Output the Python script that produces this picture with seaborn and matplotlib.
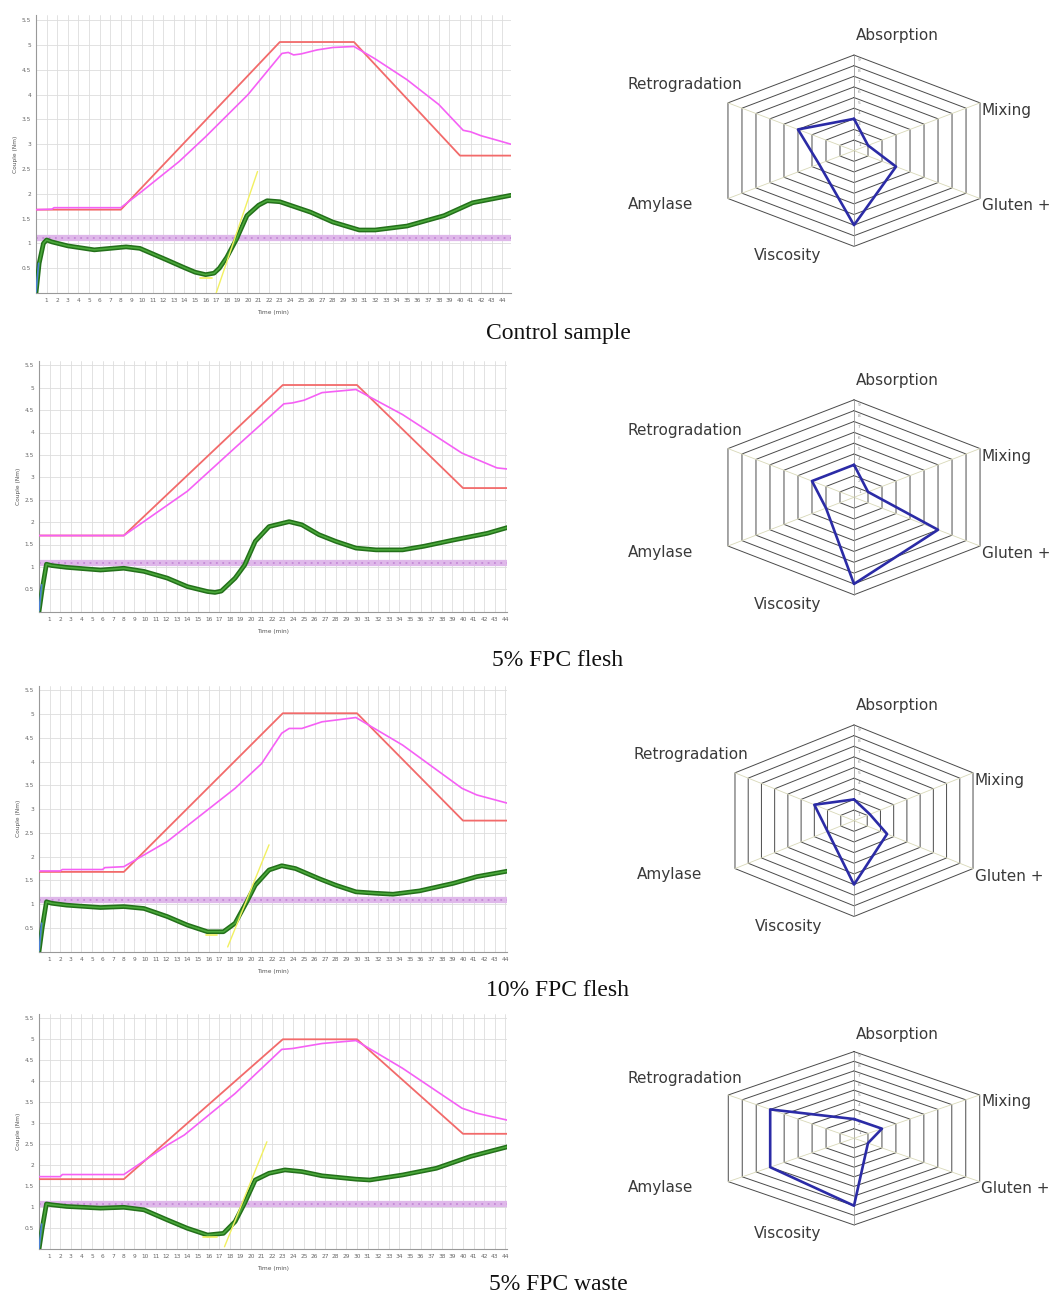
import numpy as np
import pandas as pd
import matplotlib
matplotlib.use("Agg")
import matplotlib.pyplot as plt
import seaborn as sns

sns.set_theme(style="white")
plt.rcParams['font.family'] = ['DejaVu Sans']

W, H = 1054, 1296

samples = ["Control sample", "5% FPC flesh", "10% FPC flesh", "5% FPC waste"]

# target temperature profile (red), in torque-scale units
red_t = [0, 8, 23, 30, 40, 44.8]
red_v = [
    [1.68, 1.68, 5.06, 5.06, 2.77, 2.77],
    [1.70, 1.70, 5.06, 5.06, 2.76, 2.76],
    [1.68, 1.68, 5.02, 5.02, 2.76, 2.76],
    [1.67, 1.67, 5.00, 5.00, 2.75, 2.75],
]

# dough temperature (magenta)
mag_t = [
    [0, 1.5, 1.7, 8, 10, 13.5, 16, 20, 23.2, 23.8, 24.3, 25, 26.5, 28, 30, 32, 35, 38, 40.3, 41, 42, 43.5, 44.8],
    [0, 8, 14, 18.5, 23.1, 23.9, 25, 26.7, 29.9, 34.3, 39.9, 41.3, 43.2, 44.8],
    [0, 2, 2.2, 6, 6.2, 8, 12.1, 15.3, 18.5, 21, 22.9, 23.6, 24.8, 26.7, 29.9, 34.3, 39.9, 41.3, 44.8],
    [0, 2, 2.2, 8, 12.1, 13.7, 18.5, 22.9, 23.9, 26.7, 29.9, 34.3, 39.9, 41.3, 44.8],
]
mag_v = [
    [1.68, 1.69, 1.72, 1.72, 2.05, 2.65, 3.15, 4.0, 4.83, 4.85, 4.8, 4.82, 4.9, 4.95, 4.97, 4.72, 4.3, 3.8, 3.28, 3.25, 3.17, 3.08, 3.0],
    [1.70, 1.70, 2.69, 3.66, 4.64, 4.66, 4.72, 4.89, 4.96, 4.40, 3.54, 3.40, 3.21, 3.17],
    [1.70, 1.70, 1.73, 1.73, 1.77, 1.79, 2.32, 2.88, 3.44, 3.96, 4.60, 4.70, 4.70, 4.84, 4.93, 4.35, 3.44, 3.30, 3.09],
    [1.73, 1.73, 1.78, 1.78, 2.48, 2.72, 3.71, 4.76, 4.78, 4.90, 4.97, 4.31, 3.36, 3.24, 3.04],
]

# torque curve (green)
tq_t = [
    [0, 0.3, 0.7, 1.0, 1.5, 3, 5.5, 8.5, 9.8, 12.3, 14, 15, 16, 16.8, 17.3, 18, 18.9, 19.9, 21, 21.8, 23, 25.9, 28, 30.5, 32, 35, 38.5, 41.2, 44.8],
    [0, 0.3, 0.7, 1.2, 2.6, 5.8, 8, 9.9, 12.1, 14, 15.9, 16.6, 17.2, 18.5, 19.4, 20.4, 21.7, 23.6, 24.8, 26.4, 28, 29.9, 31.8, 34.3, 36.3, 39.1, 42.3, 44.8],
    [0, 0.3, 0.7, 1.2, 2.6, 5.8, 8, 9.9, 12.1, 14, 15.9, 17.4, 18.5, 19.6, 20.4, 21.7, 22.9, 24.2, 26.4, 28, 29.9, 31.8, 33.4, 35.9, 39.1, 41.3, 44.8],
    [0, 0.3, 0.7, 1.2, 2.6, 5.8, 8, 9.9, 12.1, 14, 15.9, 17.4, 18.5, 19.4, 20.4, 21.7, 23.2, 24.8, 26.7, 29.9, 31.2, 34.3, 37.5, 40.7, 44.8],
]
tq_v = [
    [0, 0.6, 1.0, 1.07, 1.03, 0.95, 0.87, 0.93, 0.90, 0.67, 0.51, 0.42, 0.37, 0.40, 0.50, 0.72, 1.08, 1.56, 1.77, 1.86, 1.84, 1.63, 1.43, 1.27, 1.27, 1.35, 1.56, 1.82, 1.97],
    [0, 0.5, 1.06, 1.03, 0.99, 0.93, 0.97, 0.90, 0.75, 0.56, 0.45, 0.43, 0.46, 0.75, 1.04, 1.57, 1.90, 2.01, 1.94, 1.72, 1.57, 1.42, 1.38, 1.38, 1.46, 1.60, 1.75, 1.92],
    [0, 0.5, 1.05, 1.02, 0.98, 0.93, 0.95, 0.91, 0.74, 0.56, 0.42, 0.42, 0.60, 1.05, 1.40, 1.72, 1.81, 1.75, 1.54, 1.40, 1.26, 1.23, 1.21, 1.28, 1.44, 1.58, 1.72],
    [0, 0.5, 1.08, 1.06, 1.02, 0.98, 1.00, 0.94, 0.70, 0.50, 0.34, 0.38, 0.66, 1.10, 1.65, 1.81, 1.89, 1.85, 1.75, 1.67, 1.65, 1.77, 1.93, 2.21, 2.48],
]

# purple reference band and yellow slope lines
band_v = [1.10, 1.08, 1.09, 1.08]
slope_t = [[17.0, 20.9], None, [17.8, 21.7], [17.5, 21.5]]
slope_v = [[0.0, 2.45], None, [0.1, 2.25], [0.06, 2.56]]
min_t = [[15.5, 16.6], None, [15.8, 16.8], [15.5, 16.8]]
min_v = [[0.31, 0.31], None, [0.36, 0.36], [0.30, 0.30]]
start_t = [0, 0.25]
start_v = [0.02, 0.6]

# profiler indices
axes_names = ["Absorption", "Mixing", "Gluten +", "Viscosity", "Amylase", "Retrogradation"]
profile = [
    [3, 1, 3, 7, 2.5, 4],
    [3, 1, 6, 8, 2, 3],
    [2, 1.2, 2.5, 6, 2, 3],
    [2, 2, 1, 7, 6, 6],
]

# layout in pixels
line_box = [  # left, right, y of zero, px per unit
    (36, 511, 293.0, 49.6),
    (39, 507, 611.7, 44.8),
    (39, 507, 951.7, 47.5),
    (39, 507, 1249.3, 42.0),
]
radar_box = [  # cx, cy, px per x unit, px per y unit
    (854, 150.7, 16.17, 10.63),
    (854, 497.3, 16.17, 10.83),
    (854, 820.7, 15.27, 10.64),
    (854, 1138.3, 16.13, 9.63),
]
caption_y = [333, 660, 990, 1285]

fig = plt.figure(figsize=(W / 100, H / 100), dpi=100)


def px_axes(left, top, right, bottom):
    return fig.add_axes([left / W, 1 - bottom / H, (right - left) / W, (bottom - top) / H])


YMAX = 5.6
angles = np.deg2rad([90, 30, -30, -90, -150, 150])
label_pos = {
    "Absorption": (0.1, 10.8, "left"),
    "Mixing": (7.9, 3.8, "left"),
    "Gluten +": (7.9, -5.2, "left"),
    "Viscosity": (-2.05, -9.9, "right"),
    "Amylase": (-9.95, -5.1, "right"),
    "Retrogradation": (-6.9, 6.2, "right"),
}

for i in range(4):
    left, right, y0, ppu = line_box[i]
    ax = px_axes(left, y0 - YMAX * ppu, right, y0)
    xmax = (right - left) / 10.6

    ax.axhline(band_v[i], color="#dfb8ea", lw=4.5, zorder=2)
    ax.axhline(band_v[i], color="#c48ad6", lw=1.3, ls=(0, (1, 2.5)), zorder=2)

    sns.lineplot(x=red_t, y=red_v[i], ax=ax, color="#f26a6a", lw=1.3, zorder=3)
    sns.lineplot(x=mag_t[i], y=mag_v[i], ax=ax, color="#f560f5", lw=1.2, zorder=3)
    sns.lineplot(x=tq_t[i], y=tq_v[i], ax=ax, color="#23701a", lw=3.4, zorder=4)
    sns.lineplot(x=tq_t[i], y=tq_v[i], ax=ax, color="#4aa83a", lw=1.2, zorder=5)
    sns.lineplot(x=start_t, y=start_v, ax=ax, color="#4a7fd4", lw=1.2, zorder=6)
    if slope_t[i] is not None:
        sns.lineplot(x=slope_t[i], y=slope_v[i], ax=ax, color="#f2f060", lw=1.0, zorder=6)
        sns.lineplot(x=min_t[i], y=min_v[i], ax=ax, color="#f2f060", lw=1.2, zorder=6)

    ax.set_xlim(0, xmax)
    ax.set_ylim(0, YMAX)
    ax.set_xticks(range(1, 45))
    ax.set_xticklabels([str(k) for k in range(1, 45)], fontsize=4.2, color="#666666")
    yt = [0.5 * k for k in range(1, 12)]
    ax.set_yticks(yt)
    ax.set_yticklabels([f"{v:g}" for v in yt], fontsize=4.2, color="#666666")
    ax.grid(True, color="#dddddd", lw=0.6)
    ax.tick_params(length=2, width=0.5, color="#999999", pad=1.5)
    for s in ["top", "right"]:
        ax.spines[s].set_visible(False)
    for s in ["left", "bottom"]:
        ax.spines[s].set_color("#999999")
        ax.spines[s].set_linewidth(0.8)
    ax.set_xlabel("Time (min)", fontsize=4.2, color="#555555", labelpad=5)
    ax.set_ylabel("Couple (Nm)", fontsize=4.2, color="#555555", labelpad=3)

    # radar profile
    cx, cy, sx, sy = radar_box[i]
    rx = 200
    ry = 130
    rax = px_axes(cx - rx, cy - ry, cx + rx, cy + ry)
    rax.set_xlim(-rx / sx, rx / sx)
    rax.set_ylim(-ry / sy, ry / sy)
    rax.axis("off")
    for k in range(1, 10):
        hx = list(k * np.cos(angles)) + [k * np.cos(angles[0])]
        hy = list(k * np.sin(angles)) + [k * np.sin(angles[0])]
        rax.plot(hx, hy, color="#4a4a4a", lw=0.7, zorder=1)
        rax.text(0.25, k - 0.5, str(k), fontsize=3.2, color="#888888", ha="left", va="center")
    for a in angles:
        c = "#9a9a9a" if abs(np.cos(a)) < 1e-6 else "#d8d8b8"
        rax.plot([0, 9 * np.cos(a)], [0, 9 * np.sin(a)], color=c, lw=0.6, zorder=1)
    vals = profile[i] + [profile[i][0]]
    ang = list(angles) + [angles[0]]
    px = [v * np.cos(a) for v, a in zip(vals, ang)]
    py = [v * np.sin(a) for v, a in zip(vals, ang)]
    sns.lineplot(x=px, y=py, ax=rax, sort=False, estimator=None, color="#2b2ba6", lw=1.9, zorder=3)
    for name in axes_names:
        lx, ly, ha = label_pos[name]
        rax.text(lx, ly, name, fontsize=11, color="#3a3a3a", ha=ha, va="center")

    fig.text(558 / W, 1 - caption_y[i] / H, samples[i], ha="center", va="center",
             fontsize=17, family="Liberation Serif", color="#111111")

fig.savefig("out.png", dpi=100)
